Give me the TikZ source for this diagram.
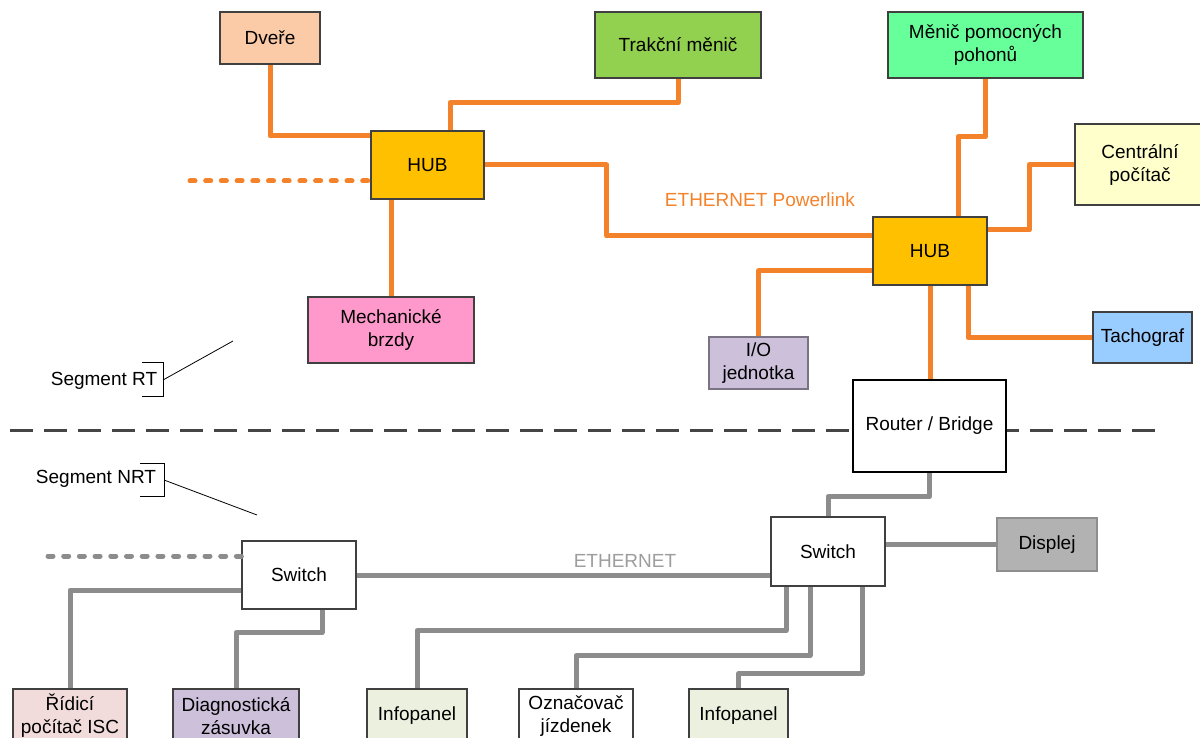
\documentclass[tikz,border=0pt]{standalone}
\usepackage{fontspec}
\setmainfont{Liberation Sans}
\usetikzlibrary{calc}
\definecolor{rtline}{HTML}{F4822A}
\definecolor{nrtline}{HTML}{8C8C8C}
\definecolor{boxedge}{HTML}{404040}
\definecolor{cDvere}{HTML}{FBCBA7}
\definecolor{cTrakce}{HTML}{92D050}
\definecolor{cMenic}{HTML}{66FF99}
\definecolor{cCentral}{HTML}{FFFFCC}
\definecolor{cHub}{HTML}{FFC000}
\definecolor{cBrzdy}{HTML}{FF99CC}
\definecolor{cLila}{HTML}{CCC0DA}
\definecolor{cTacho}{HTML}{99CCFF}
\definecolor{cDisplej}{HTML}{B2B2B2}
\definecolor{cRidici}{HTML}{F2DCDB}
\definecolor{cInfo}{HTML}{EBF1DE}
\definecolor{cDivider}{HTML}{454545}
\begin{document}
\begin{tikzpicture}[x=1pt,y=-1pt,
  font=\fontsize{19}{23}\selectfont,
  unit/.style={draw=boxedge,line width=1.3pt,align=center,inner sep=0pt,
    minimum width=#1},
  unit/.default=100pt,
  rt/.style={draw=rtline,line width=5pt,line join=round},
  nrt/.style={draw=nrtline,line width=5pt,line join=round},
  dotline/.style={line cap=round,dash pattern=on 5pt off 10.7pt},
  callout/.style={draw=black,line width=0.8pt},
]
\useasboundingbox (0,0) rectangle (1200,738);

% dividing line between the two segments
\draw[cDivider,line width=3pt,dash pattern=on 23pt off 11pt] (10,430) -- (1155,430);

% --- real-time segment ---
\node[unit=100pt,minimum height=52pt,fill=cDvere] (dvere) at (270,38) {Dveře};
\node[unit=166pt,minimum height=66pt,fill=cTrakce] (trakce) at (678,45) {Trakční měnič};
\node[unit=195pt,minimum height=66pt,fill=cMenic] (menic) at (985.5,45) {Měnič pomocných\\pohonů};
\node[unit=130pt,minimum height=81pt,fill=cCentral] (central) at (1140,164.5) {Centrální\\počítač};
\node[unit=113pt,minimum height=68pt,fill=cHub] (hubA) at (427.5,165) {HUB};
\node[unit=114pt,minimum height=68pt,fill=cHub] (hubB) at (930,251) {HUB};
\node[unit=166pt,minimum height=66pt,fill=cBrzdy] (brzdy) at (391,330) {Mechanické\\brzdy};
\node[unit=99pt,minimum height=52pt,fill=cLila,draw=cLila!60!black] (io) at (758.5,363) {I/O\\jednotka};
\node[unit=99pt,minimum height=51pt,fill=cTacho] (tacho) at (1142.5,337.5) {Tachograf};
\node[unit=153pt,minimum height=92pt,fill=white,draw=black] (router) at (929.5,426) {Router / Bridge};

\node[text=rtline] (rtlabel) at (760,200) {ETHERNET Powerlink};

\coordinate (rtloose) at (190,181);
\draw[rt,dotline] (rtloose) -- (rtloose -| hubA.west);
\draw[rt] (dvere.south) |- ($(hubA.west)+(0,-29)$);
\draw[rt] (trakce.south) -- ++(0,24) -| ($(hubA.north)+(22.5,0)$);
\draw[rt] (hubA.east) -- ++(122,0) |- ($(hubB.west)+(0,-15)$);
\draw[rt] (brzdy.north) -- (brzdy.north |- hubA.south);
\draw[rt] (menic.south) -- ++(0,58) -| ($(hubB.north)+(28,0)$);
\draw[rt] (central.west) -- ++(-45,0) |- ($(hubB.east)+(0,-21)$);
\draw[rt] ($(hubB.west)+(0,20)$) -| (io.north);
\draw[rt] (hubB.south) -- (hubB.south |- router.north);
\draw[rt] ($(hubB.south)+(38,0)$) |- (tacho.west);

% --- non-real-time segment ---
\node[unit=114pt,minimum height=68pt,fill=white] (swA) at (299,575) {Switch};
\node[unit=114pt,minimum height=69pt,fill=white] (swB) at (828,551.5) {Switch};
\node[unit=100pt,minimum height=53pt,fill=cDisplej,draw=cDisplej!80!black] (displej) at (1047,544.5) {Displej};
\node[unit=114pt,minimum height=54pt,fill=cRidici] (ridici) at (70,716) {Řídicí\\počítač ISC};
\node[unit=126pt,minimum height=54pt,fill=cLila] (diag) at (236,716) {Diagnostická\\zásuvka};
\node[unit=100pt,minimum height=54pt,fill=cInfo] (infoA) at (417,716) {Infopanel};
\node[unit=114pt,minimum height=54pt,fill=white] (oznac) at (576,716) {Označovač\\jízdenek};
\node[unit=99pt,minimum height=54pt,fill=cInfo] (infoB) at (738.5,716) {Infopanel};

\node[text=nrtline!85!white] (nrtlabel) at (625,561) {ETHERNET};

\coordinate (nrtloose) at (48,556);
\draw[nrt,dotline] (nrtloose) -- (nrtloose -| swA.west);
\draw[nrt] (router.south) -- ++(0,24) -| (swB.north);
\draw[nrt] (displej.west) -- (displej.west -| swB.east);
\draw[nrt] (swA.east) -- (swA.east -| swB.west);
\draw[nrt] ($(swB.south)+(-42,0)$) -- ++(0,44) -| (infoA.north);
\draw[nrt] ($(swB.south)+(-18,0)$) -- ++(0,69) -| (oznac.north);
\draw[nrt] ($(swB.south)+(34,0)$) -- ++(0,87) -| (infoB.north);
\draw[nrt] ($(swA.west)+(0,15)$) -| (ridici.north);
\draw[nrt] ($(swA.south)+(23,0)$) -- ++(0,23) -| (diag.north);

% segment callouts
\node (segrt) at (104,381) {Segment RT};
\draw[callout] (142,362) -- (163,362) -- (163,396) -- (142,396);
\draw[callout] (163,380) -- (233,341);
\node (segnrt) at (96,479) {Segment NRT};
\draw[callout] (140,463) -- (164,463) -- (164,496) -- (140,496);
\draw[callout] (164,480) -- (257,515);
\end{tikzpicture}
\end{document}
